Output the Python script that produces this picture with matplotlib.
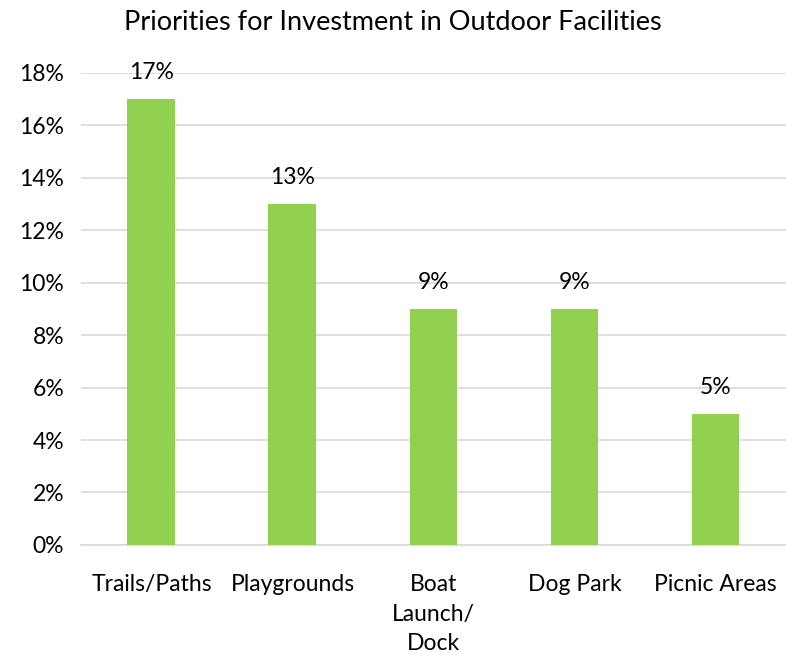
import matplotlib
matplotlib.use("Agg")
import matplotlib.pyplot as plt
from matplotlib.ticker import FuncFormatter

categories = ["Trails/Paths", "Playgrounds", "Boat\nLaunch/\nDock", "Dog Park", "Picnic Areas"]
values = [17, 13, 9, 9, 5]
yticks = [0, 2, 4, 6, 8, 10, 12, 14, 16, 18]

plt.rcParams['font.family'] = ['Lato', 'DejaVu Sans']

fig = plt.figure(figsize=(7.86, 6.55), dpi=100)
ax = fig.add_axes([0.103, 0.168, 0.897, 0.721])

x = list(range(len(categories)))
ax.bar(x, values, width=0.34, color="#92D050", zorder=3)
for xi, v in zip(x, values):
    ax.text(xi, v + 0.6, f"{v}%", ha="center", va="bottom", fontsize=16.5, color="#000000")

ax.set_xlim(-0.5, len(categories) - 0.5)
ax.set_ylim(0, 18)
ax.set_yticks(yticks)
ax.yaxis.set_major_formatter(FuncFormatter(lambda v, p: f"{int(v)}%"))
ax.set_xticks(x)
ax.set_xticklabels(categories, fontsize=16.5, linespacing=1.5, va="top")
ax.tick_params(axis="y", labelsize=16.5, length=0, pad=12)
ax.tick_params(axis="x", length=0, pad=21)
ax.grid(axis="y", color="#D9D9D9", linewidth=1.2, zorder=0)
for s in ["top", "right", "left"]:
    ax.spines[s].set_visible(False)
ax.spines["bottom"].set_color("#D9D9D9")
ax.spines["bottom"].set_linewidth(1.2)

fig.suptitle("Priorities for Investment in Outdoor Facilities", fontsize=19.5, y=0.985)

fig.savefig("out.png", dpi=100)
